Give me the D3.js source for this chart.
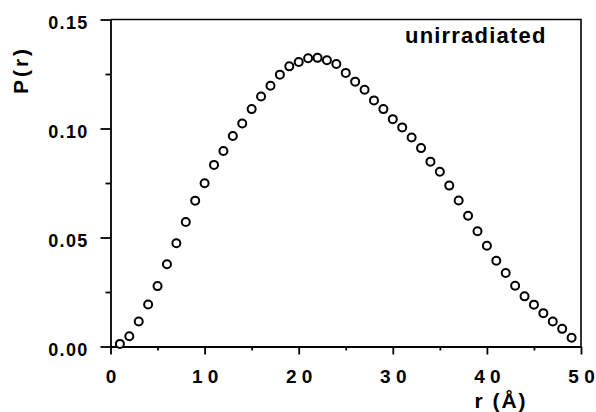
<!DOCTYPE html>
<html lang="en">
<head>
    <meta charset="UTF-8">
    <title>P(r) unirradiated</title>
    <style>
        body { margin: 0; background: #fff; }
        svg { display: block; }
        text { font-family: "Liberation Sans", Arial, Helvetica, sans-serif; font-weight: bold; fill: #000; }
    </style>
</head>
<body>
    <svg id="chart" width="596" height="412"></svg>

    <script src="https://cdn.jsdelivr.net/npm/d3@7"></script>
    <script>
        // distance r (Å) of each point
        const rValues = [1, 2, 3, 4, 5, 6, 7, 8, 9, 10,
                         11, 12, 13, 14, 15, 16, 17, 18, 19, 20,
                         21, 22, 23, 24, 25, 26, 27, 28, 29, 30,
                         31, 32, 33, 34, 35, 36, 37, 38, 39, 40,
                         41, 42, 43, 44, 45, 46, 47, 48, 49];
        // P(r)
        const pValues = [0.0012, 0.0047, 0.0115, 0.0193, 0.0277, 0.0377, 0.0474, 0.0571, 0.0669, 0.0749,
                         0.0833, 0.0897, 0.0966, 0.1023, 0.1089, 0.1147, 0.1196, 0.1247, 0.1285, 0.1305,
                         0.1322, 0.1324, 0.1313, 0.1296, 0.1255, 0.1215, 0.1178, 0.1129, 0.1089, 0.1043,
                         0.1005, 0.0959, 0.0910, 0.0848, 0.0802, 0.0738, 0.0670, 0.0600, 0.0529, 0.0462,
                         0.0393, 0.0337, 0.0279, 0.0230, 0.0192, 0.0153, 0.0115, 0.0081, 0.0040];

        const xTicks = [0, 10, 20, 30, 40, 50];
        const xTickLabels = ["0", "1 0", "2 0", "3 0", "4 0", "5 0"];
        const xMinor = [5, 15, 25, 35, 45];
        const yTicks = [0, 0.05, 0.10, 0.15];
        const yTickLabels = ["0.00", "0.05", "0.10", "0.15"];
        const yMinor = [0.025, 0.075, 0.125];

        const svg = d3.select("#chart");
        const plotLeft = 110.5, plotRight = 581, plotTop = 19.5, plotBottom = 346.5;

        const x = d3.scaleLinear().domain([0, 50]).range([plotLeft, plotRight]);
        const y = d3.scaleLinear().domain([0, 0.15]).range([plotBottom, plotTop]);

        // frame (top and right sides)
        svg.append("path")
            .attr("d", `M${plotLeft},${plotTop}H${plotRight}V${plotBottom}`)
            .attr("fill", "none")
            .attr("stroke", "#000")
            .attr("stroke-width", 1.6);

        // x axis, major + minor ticks
        const gx = svg.append("g").attr("transform", `translate(0,${plotBottom})`);
        gx.call(d3.axisBottom(x).tickValues(xTicks).tickSize(8).tickSizeOuter(0)
            .tickFormat((d, i) => xTickLabels[i]));
        svg.append("g").attr("transform", `translate(0,${plotBottom})`)
            .call(d3.axisBottom(x).tickValues(xMinor).tickSize(4).tickSizeOuter(0).tickFormat(""))
            .select(".domain").remove();

        // y axis, major + minor ticks
        const gy = svg.append("g").attr("transform", `translate(${plotLeft},0)`);
        gy.call(d3.axisLeft(y).tickValues(yTicks).tickSize(10).tickSizeOuter(0)
            .tickFormat((d, i) => yTickLabels[i]));
        svg.append("g").attr("transform", `translate(${plotLeft},0)`)
            .call(d3.axisLeft(y).tickValues(yMinor).tickSize(5).tickSizeOuter(0).tickFormat(""))
            .select(".domain").remove();

        svg.selectAll(".domain, .tick line").attr("stroke", "#000").attr("stroke-width", 1.8);

        gx.selectAll(".tick text")
            .attr("y", 0).attr("dy", 0)
            .attr("transform", "translate(0,36)")
            .style("font-size", "19px")
            .style("font-family", "'Liberation Sans', Arial, sans-serif")
            .style("font-weight", "bold");

        gy.selectAll(".tick text")
            .attr("x", -22).attr("dy", "0.5em")
            .attr("letter-spacing", "1.3px")
            .style("font-size", "18px")
            .style("font-family", "'Liberation Sans', Arial, sans-serif")
            .style("font-weight", "bold");

        // data points
        svg.append("g").selectAll("circle")
            .data(rValues.map((r, i) => ({ r: r, p: pValues[i] })))
            .enter()
            .append("circle")
            .attr("cx", d => x(d.r))
            .attr("cy", d => y(d.p))
            .attr("r", 4)
            .attr("fill", "#fff")
            .attr("stroke", "#000")
            .attr("stroke-width", 2);

        // axis titles
        svg.append("text")
            .attr("transform", "translate(28,70) rotate(-90)")
            .attr("text-anchor", "middle")
            .attr("letter-spacing", "3px")
            .style("font-size", "21px")
            .text("P(r)");

        svg.append("text")
            .attr("x", 501).attr("y", 408)
            .attr("text-anchor", "middle")
            .attr("letter-spacing", "2px")
            .style("font-size", "21px")
            .text("r (Å)");

        // panel label
        svg.append("text")
            .attr("x", 405).attr("y", 43)
            .attr("letter-spacing", "1.2px")
            .style("font-size", "22px")
            .text("unirradiated");
    </script>
</body>
</html>
